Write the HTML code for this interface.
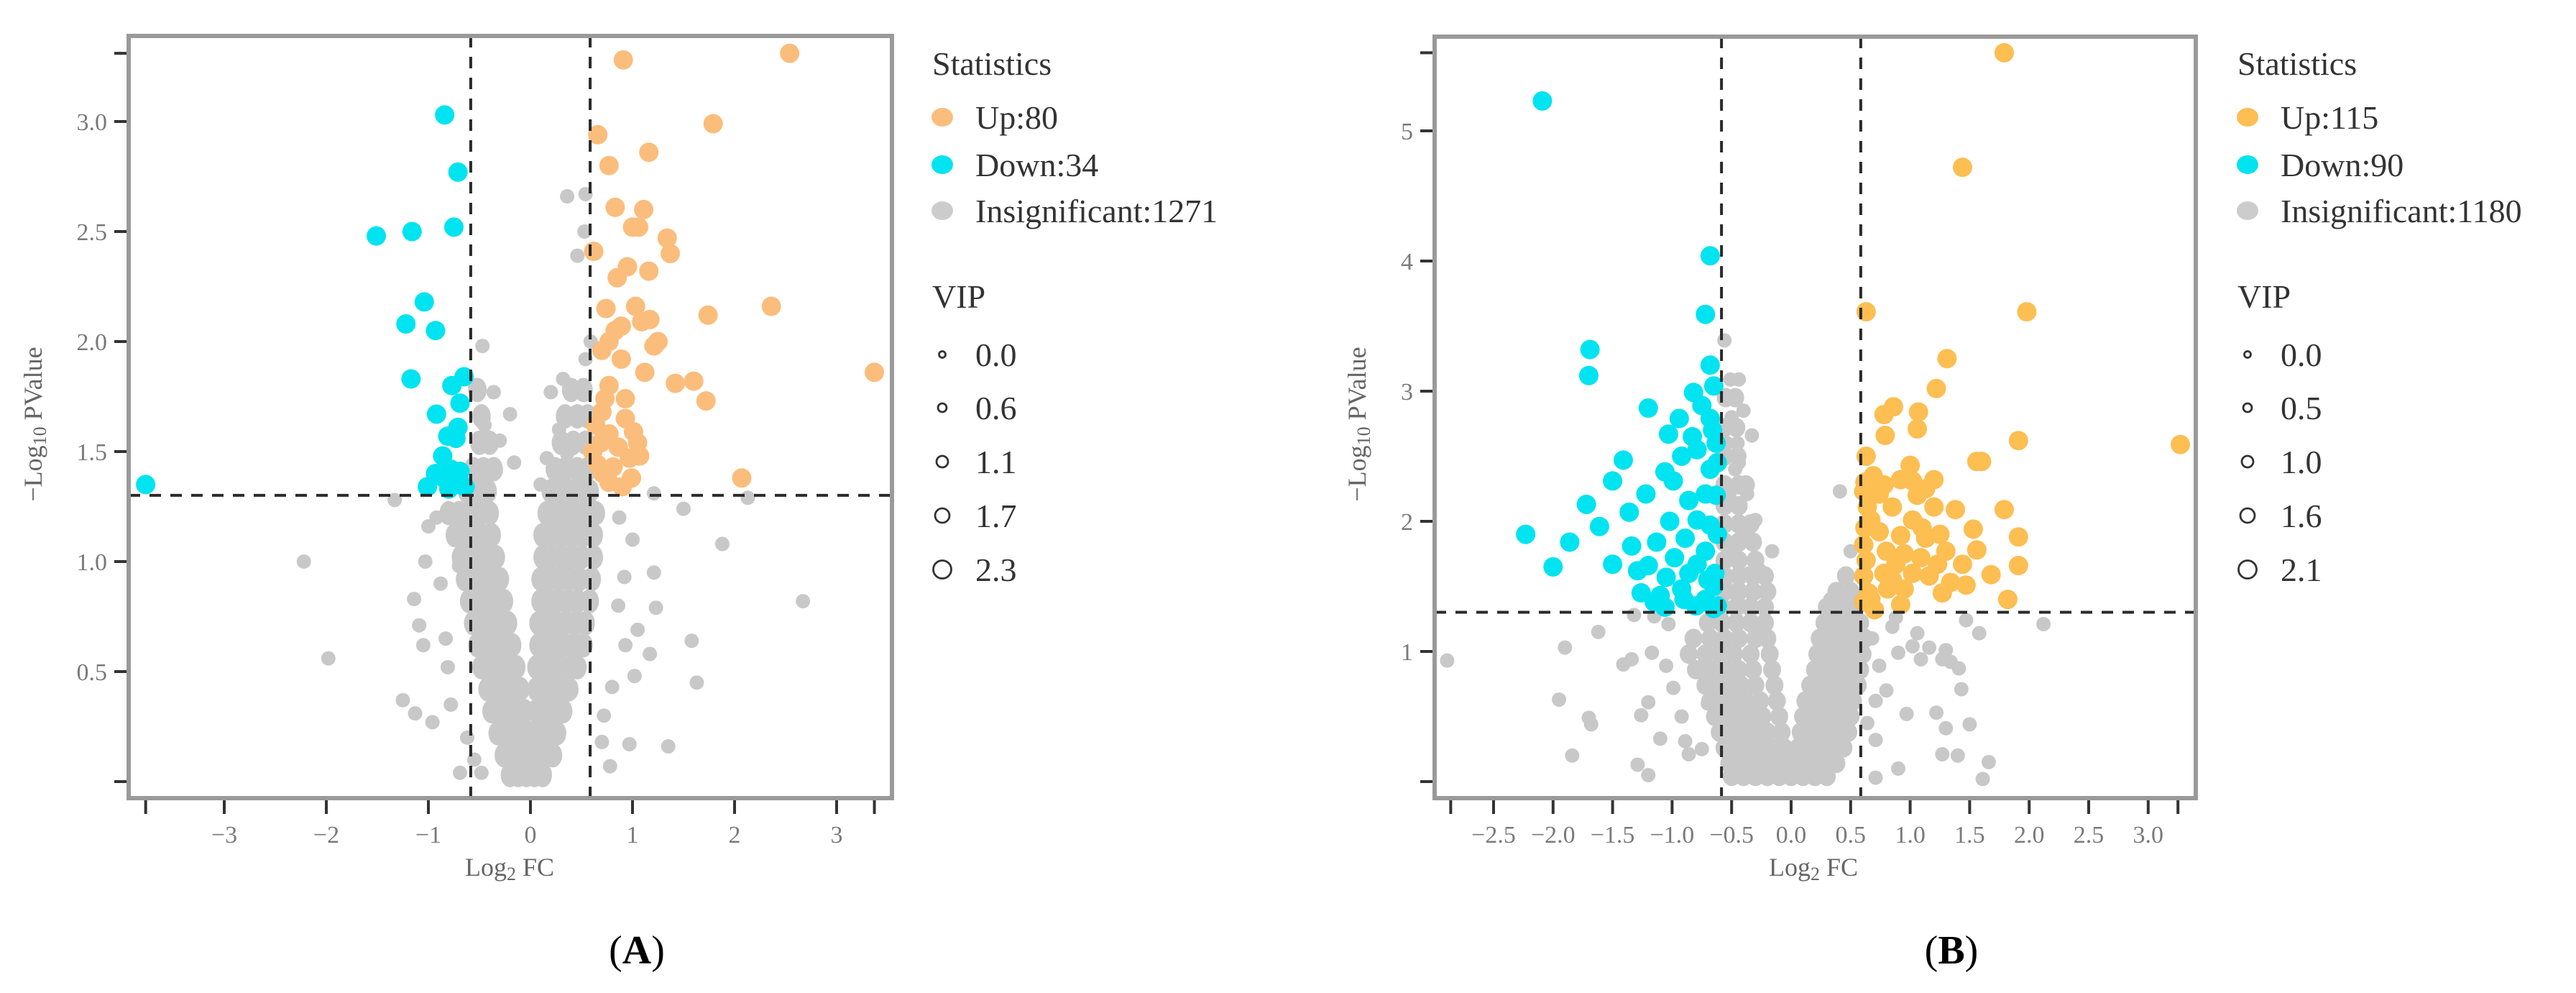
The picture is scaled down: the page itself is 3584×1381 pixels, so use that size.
<!DOCTYPE html>
<html><head><meta charset="utf-8"><style>
html,body{margin:0;padding:0;background:#fff}
svg{display:block}
text{font-family:"Liberation Serif","DejaVu Serif",serif}
</style></head><body>
<svg id="fig" width="3584" height="1381" viewBox="0 0 3584 1381" xmlns="http://www.w3.org/2000/svg"></svg>
<script>
// ===== Panel A data =====
const aXTicks = [-3,-2,-1,0,1,2,3];
const aXTickLabels = ["−3","−2","−1","0","1","2","3"];
const aXExtra = [-3.77, 3.37];
const aYTicks = [0.5,1.0,1.5,2.0,2.5,3.0];
const aYTickLabels = ["0.5","1.0","1.5","2.0","2.5","3.0"];
const aYExtra = [0, 3.31];
const aUp = [[0.91,3.28],[2.54,3.31],[1.79,2.99],[0.66,2.94],[1.16,2.86],[0.77,2.80],[0.83,2.61],[1.11,2.60],[1.0,2.52],[1.06,2.52],[1.34,2.47],[0.62,2.41],[1.37,2.40],[0.95,2.34],[1.16,2.32],[0.85,2.29],[2.36,2.16],[1.74,2.12],[0.74,2.15],[1.03,2.16],[1.17,2.10],[0.89,2.07],[0.83,2.05],[1.25,2.0],[1.21,1.98],[1.09,2.09],[0.70,1.96],[0.89,1.92],[0.77,2.0],[3.37,1.86],[1.12,1.86],[1.42,1.81],[1.60,1.82],[1.72,1.73],[0.77,1.80],[0.73,1.74],[0.93,1.74],[0.70,1.68],[0.93,1.65],[1.01,1.59],[1.05,1.54],[0.77,1.58],[0.69,1.54],[0.61,1.50],[0.97,1.47],[0.81,1.43],[0.71,1.40],[0.99,1.38],[0.77,1.36],[2.07,1.38],[0.64,1.62],[0.86,1.52],[0.66,1.44],[0.90,1.34],[1.07,1.48]];
const aDown = [[-0.84,3.03],[-0.71,2.77],[-0.75,2.52],[-1.51,2.48],[-1.16,2.50],[-1.04,2.18],[-1.22,2.08],[-0.93,2.05],[-1.17,1.83],[-0.65,1.84],[-0.77,1.80],[-0.69,1.72],[-0.92,1.67],[-0.71,1.61],[-0.81,1.57],[-0.73,1.56],[-0.86,1.48],[-0.78,1.42],[-0.93,1.40],[-0.69,1.41],[-1.01,1.34],[-0.73,1.35],[-0.85,1.38],[-3.77,1.35],[-0.64,1.34],[-0.80,1.33]];
const aGrayOut = [[0.36,2.66],[0.54,2.67],[0.53,2.50],[0.46,2.39],[0.59,2.0],[0.54,1.92],[-0.47,1.98],[-0.36,1.77],[-0.2,1.67],[-0.16,1.45],[-0.54,1.80],[0.32,1.83],[0.2,1.77],[0.28,1.6],[0.36,1.49],[0.16,1.47],[-2.22,1.0],[-1.98,0.56],[1.88,1.08],[2.67,0.82],[2.13,1.29],[1.5,1.24],[1.21,1.31],[1.58,0.64],[1.63,0.45],[-1.25,0.37],[-1.13,0.31],[-1.14,0.83],[-1.09,0.71],[-1.05,0.62],[-1.33,1.28],[-1.0,1.16],[-1.03,1.0],[0.97,0.17],[1.35,0.16],[0.78,0.07],[-0.69,0.04],[-0.48,0.04],[1.21,0.95],[1.23,0.79],[1.17,0.58],[1.02,0.48],[1.05,0.69],[0.92,0.93],[1.0,1.1],[0.87,1.2],[0.93,0.62],[0.86,0.8],[-0.92,1.2],[-0.88,0.9],[-0.81,0.52],[-0.78,0.35],[-0.83,0.65],[-0.96,0.27],[-0.70,0.98],[0.72,0.3],[0.8,0.43],[0.7,0.18],[-0.62,0.2],[-0.55,0.1],[-0.3,1.55],[0.1,1.35],[-0.45,1.62],[0.45,1.68]];
const aCloud = [
 [0.03,[-0.2,-0.12,-0.04,0.04,0.12]],
 [0.12,[-0.26,-0.18,-0.1,-0.02,0.06,0.14,0.22]],
 [0.22,[-0.32,-0.24,-0.16,-0.08,0.0,0.08,0.16,0.26]],
 [0.32,[-0.38,-0.3,-0.22,-0.14,-0.06,0.06,0.14,0.22,0.32]],
 [0.42,[-0.42,-0.34,-0.26,-0.18,-0.1,0.06,0.14,0.22,0.3,0.38]],
 [0.52,[-0.48,-0.4,-0.32,-0.24,-0.14,0.06,0.14,0.22,0.3,0.4,0.46]],
 [0.62,[-0.52,-0.44,-0.36,-0.28,-0.18,0.08,0.16,0.24,0.32,0.42,0.52]],
 [0.72,[-0.56,-0.48,-0.4,-0.32,-0.22,0.08,0.16,0.24,0.34,0.44,0.54]],
 [0.82,[-0.6,-0.52,-0.44,-0.36,-0.26,0.1,0.18,0.26,0.36,0.46,0.58]],
 [0.92,[-0.64,-0.56,-0.48,-0.4,-0.3,0.1,0.18,0.28,0.38,0.48,0.6]],
 [1.02,[-0.68,-0.6,-0.52,-0.44,-0.34,0.12,0.2,0.3,0.4,0.5,0.62]],
 [1.12,[-0.74,-0.64,-0.56,-0.48,-0.38,0.12,0.22,0.32,0.42,0.52,0.62]],
 [1.22,[-0.8,-0.7,-0.6,-0.5,-0.4,0.16,0.26,0.36,0.46,0.56,0.64]],
 [1.32,[-0.62,-0.52,-0.42,0.2,0.3,0.4,0.5,0.58]],
 [1.42,[-0.56,-0.46,-0.36,0.24,0.34,0.46,0.56]],
 [1.54,[-0.5,-0.4,0.3,0.42,0.54]],
 [1.66,[-0.48,0.34,0.46,0.56]],
 [1.78,[-0.52,0.4,0.52]]
];
// ===== Panel B data =====
const bXTicks = [-2.5,-2.0,-1.5,-1.0,-0.5,0.0,0.5,1.0,1.5,2.0,2.5,3.0];
const bXTickLabels = ["−2.5","−2.0","−1.5","−1.0","−0.5","0.0","0.5","1.0","1.5","2.0","2.5","3.0"];
const bXExtra = [-2.86, 3.25];
const bYTicks = [1,2,3,4,5];
const bYTickLabels = ["1","2","3","4","5"];
const bYExtra = [0, 5.6];
const bUp = [[1.79,5.60],[1.44,4.72],[0.63,3.61],[1.98,3.61],[1.31,3.25],[1.22,3.02],[0.78,2.82],[0.86,2.88],[1.07,2.84],[1.06,2.71],[0.79,2.66],[1.91,2.62],[3.27,2.59],[0.63,2.50],[1.60,2.46],[1.56,2.46],[1.00,2.43],[0.69,2.35],[0.92,2.32],[1.20,2.32],[1.13,2.25],[0.61,2.23],[0.74,2.21],[1.06,2.20],[0.85,2.11],[1.38,2.09],[1.79,2.09],[1.20,2.11],[1.53,1.94],[1.91,1.88],[1.56,1.78],[1.91,1.66],[1.68,1.59],[1.47,1.51],[1.82,1.40],[1.27,1.45],[1.34,1.53],[1.02,1.60],[0.88,1.67],[0.61,1.58],[0.81,1.48],[0.92,1.36],[0.67,1.40],[0.61,1.82],[0.74,1.92],[1.02,2.01],[1.13,1.87],[1.30,1.77],[1.23,1.67],[0.92,1.89],[0.67,2.01],[1.09,1.72],[0.80,1.77],[1.16,1.58],[0.61,1.38],[0.95,1.48],[1.44,1.67],[0.64,2.11],[1.02,2.31],[0.78,2.28],[0.62,1.95],[0.63,1.70],[0.65,1.45],[0.62,2.30],[0.70,1.32],[0.85,1.55],[0.95,1.75],[1.10,1.95],[1.25,1.90],[0.78,1.60]];
const bDown = [[-2.09,5.23],[-0.68,4.04],[-0.72,3.59],[-1.69,3.32],[-1.70,3.12],[-0.68,3.20],[-0.82,2.99],[-0.65,3.04],[-0.75,2.89],[-1.20,2.87],[-0.94,2.79],[-0.68,2.79],[-0.83,2.65],[-1.03,2.67],[-0.63,2.60],[-1.41,2.47],[-0.79,2.55],[-0.92,2.50],[-1.06,2.38],[-1.50,2.31],[-0.99,2.31],[-0.68,2.40],[-1.22,2.21],[-1.72,2.13],[-0.86,2.16],[-0.72,2.21],[-1.36,2.07],[-1.61,1.96],[-1.02,2.00],[-0.79,2.01],[-2.23,1.90],[-1.86,1.84],[-1.13,1.84],[-1.34,1.81],[-0.89,1.87],[-0.68,1.97],[-2.00,1.65],[-1.50,1.67],[-0.98,1.72],[-1.20,1.66],[-0.72,1.77],[-1.29,1.62],[-1.05,1.57],[-0.86,1.60],[-1.26,1.45],[-0.92,1.48],[-1.10,1.43],[-0.72,1.40],[-0.65,1.50],[-0.79,1.67],[-0.65,1.33],[-1.06,1.34],[-0.63,2.20],[-0.62,1.90],[-0.64,1.60],[-0.66,2.70],[-0.62,2.45],[-0.70,1.55],[-0.62,1.35],[-0.90,1.40],[-0.80,1.35],[-1.15,1.38]];
const bGrayOut = [[-2.89,0.93],[-1.90,1.03],[-1.62,1.15],[-1.95,0.63],[-1.70,0.49],[-1.68,0.44],[-1.84,0.20],[-1.29,0.13],[-1.20,0.05],[-1.41,0.90],[-1.34,0.94],[-1.17,0.99],[-1.20,0.61],[-1.26,0.51],[-1.10,0.33],[-0.99,0.72],[-0.86,0.21],[-0.89,0.31],[-1.05,0.89],[-1.32,1.28],[-1.15,1.27],[-1.03,1.21],[-0.56,3.39],[-0.51,3.09],[-0.44,3.09],[-0.40,2.85],[-0.33,2.66],[-0.44,2.45],[-0.37,2.21],[-0.30,2.01],[-0.16,1.77],[-0.26,1.62],[-0.47,2.40],[-0.54,2.60],[0.41,2.23],[0.50,1.77],[0.33,1.40],[0.41,1.43],[2.12,1.21],[1.47,1.24],[1.58,1.14],[1.16,1.03],[1.30,1.01],[1.34,0.92],[1.41,0.87],[1.27,0.94],[1.09,0.94],[0.90,0.99],[0.74,0.89],[1.06,1.14],[0.88,1.26],[0.85,1.19],[1.02,1.04],[1.43,0.71],[1.50,0.44],[1.30,0.41],[1.22,0.53],[0.97,0.52],[0.71,0.62],[0.64,0.45],[0.71,0.32],[0.90,0.10],[0.71,0.03],[1.27,0.21],[1.40,0.20],[1.66,0.15],[1.61,0.02],[-0.5,2.8],[-0.45,2.6],[-0.52,2.2],[-0.4,1.9],[-0.5,1.8],[-0.35,1.6],[-0.55,1.5],[-0.3,1.45],[-0.45,1.4],[-0.92,0.5],[-0.75,0.25],[-0.7,0.6],[0.8,0.7],[0.68,1.1]];
const bCloud = [
 [0.04,[-0.5,-0.4,-0.3,-0.2,-0.1,0.0,0.1,0.2,0.3]],
 [0.14,[-0.52,-0.42,-0.32,-0.22,-0.12,-0.02,0.08,0.18,0.28,0.38]],
 [0.26,[-0.56,-0.46,-0.36,-0.26,-0.16,-0.06,0.06,0.16,0.26,0.36,0.44]],
 [0.38,[-0.6,-0.5,-0.4,-0.3,-0.2,-0.08,0.08,0.18,0.28,0.38,0.48]],
 [0.5,[-0.64,-0.54,-0.44,-0.34,-0.24,-0.1,0.1,0.2,0.3,0.4,0.5]],
 [0.62,[-0.68,-0.58,-0.48,-0.38,-0.26,-0.12,0.12,0.22,0.32,0.42,0.52]],
 [0.74,[-0.72,-0.62,-0.52,-0.42,-0.3,-0.14,0.16,0.26,0.36,0.46,0.56]],
 [0.86,[-0.8,-0.68,-0.56,-0.44,-0.32,-0.16,0.2,0.3,0.4,0.5,0.58]],
 [0.98,[-0.86,-0.72,-0.6,-0.48,-0.34,-0.18,0.22,0.32,0.42,0.52,0.6]],
 [1.1,[-0.82,-0.68,-0.56,-0.44,-0.3,-0.2,0.24,0.34,0.44,0.54,0.62]],
 [1.22,[-0.7,-0.58,-0.46,-0.34,-0.22,0.28,0.38,0.48,0.58]],
 [1.34,[-0.58,-0.46,-0.34,-0.22,0.3,0.42,0.54]],
 [1.46,[-0.56,-0.44,-0.32,-0.2,0.38,0.5]],
 [1.58,[-0.56,-0.44,-0.32,-0.22,0.46]],
 [1.7,[-0.56,-0.44,-0.3]],
 [1.84,[-0.56,-0.44,-0.32]],
 [1.98,[-0.56,-0.44,-0.34]],
 [2.12,[-0.56,-0.44]],
 [2.28,[-0.56,-0.44,-0.38]],
 [2.5,[-0.56,-0.45]],
 [2.72,[-0.56,-0.46]],
 [2.95,[-0.55,-0.47]]
];
const legendA = ["Up:80","Down:34","Insignificant:1271"];
const vipA = ["0.0","0.6","1.1","1.7","2.3"];
const legendB = ["Up:115","Down:90","Insignificant:1180"];
const vipB = ["0.0","0.5","1.0","1.6","2.1"];

const NS = "http://www.w3.org/2000/svg";
const svg = document.getElementById('fig');
function mk(tag, attrs, parent){
  const e = document.createElementNS(NS, tag);
  for (const k in attrs) e.setAttribute(k, attrs[k]);
  (parent||svg).appendChild(e);
  return e;
}

function panel(P){
  const g = mk('g', {});
  
  
  const sx = v => P.x0 + v*P.ux;
  const sy = v => P.y0 - v*P.uy;
  const pts = mk('g', {}, g);
  
  
  P.cloud.forEach(row => {
    row[1].forEach(x => {
      const c = mk('ellipse', {cx:sx(x), cy:sy(row[0]), rx:P.crx, ry:P.cry, fill:'#c8c8c8'}, pts);
      
      
    });
  });
  P.gray.forEach(p => {
    const c = mk('circle', {cx:sx(p[0]), cy:sy(p[1]), r:10, fill:'#c8c8c8'}, pts);
    
    
  });
  P.down.forEach(p => {
    const c = mk('circle', {cx:sx(p[0]), cy:sy(p[1]), r:13.5, fill:'#00e3f0'}, pts);
    
    
  });
  P.up.forEach(p => {
    const c = mk('circle', {cx:sx(p[0]), cy:sy(p[1]), r:13.5, fill:P.upColor}, pts);
    
    
  });
  const th = [[sx(-0.585),P.top,sx(-0.585),P.bottom],[sx(0.585),P.top,sx(0.585),P.bottom],[P.left,sy(1.301),P.right,sy(1.301)]];
  th.forEach((l,i) => {
    const e = mk('line', {x1:l[0],y1:l[1],x2:l[2],y2:l[3],stroke:'#2a2a2a','stroke-width':4,'stroke-dasharray':'16 13'}, g);
    
    
  });
  const box = mk('rect', {x:P.left, y:P.top, width:P.right-P.left, height:P.bottom-P.top, fill:'none', stroke:'#9a9a9a','stroke-width':6}, g);
  
  
  const xt = P.xTicks.concat(P.xExtra);
  xt.forEach(v => {
    const t = mk('line', {x1:sx(v), y1:P.bottom+3, x2:sx(v), y2:P.bottom+22, stroke:'#333','stroke-width':4}, g);
    
    
  });
  P.xTicks.forEach((v,i) => {
    const t = mk('text', {x:sx(v), y:P.bottom+62, 'text-anchor':'middle', 'font-size':34, fill:'#7a7a7a'}, g);
    t.textContent = P.xLabels[i];
    
    
  });
  const yt = P.yTicks.concat(P.yExtra);
  yt.forEach(v => {
    const t = mk('line', {x1:P.left-20, y1:sy(v), x2:P.left-3, y2:sy(v), stroke:'#333','stroke-width':4}, g);
    
    
  });
  P.yTicks.forEach((v,i) => {
    const t = mk('text', {x:P.left-30, y:sy(v)+12, 'text-anchor':'end', 'font-size':34, fill:'#7a7a7a'}, g);
    t.textContent = P.yLabels[i];
    
    
  });
  const xtitle = mk('text', {x:P.xTitleX, y:1218, 'text-anchor':'middle', 'font-size':36, fill:'#666'}, g);
  
  
  xtitle.innerHTML = 'Log<tspan font-size="26" dy="6">2</tspan><tspan dy="-6"> FC</tspan>';
  const ytitle = mk('text', {x:0, y:0, 'text-anchor':'middle', 'font-size':36, fill:'#666', transform:'translate('+(P.yTitleX)+',590) rotate(-90)'}, g);
  
  
  ytitle.innerHTML = '−Log<tspan font-size="26" dy="6">10</tspan><tspan dy="-6"> PValue</tspan>';
  const lg = mk('g', {}, g);
  
  
  const st = mk('text', {x:P.legX-14, y:104, 'font-size':46, fill:'#333'}, lg);
  st.textContent = 'Statistics';
  
  
  const cols = [P.upColor, '#00e3f0', '#cccccc'];
  const rowsY = [163, 229, 293];
  P.legend.forEach((s,i) => {
    const d = mk('ellipse', {cx:P.legX, cy:rowsY[i], rx:15, ry:13, fill:cols[i]}, lg);
    
    
    const t = mk('text', {x:P.legX+46, y:rowsY[i]+16, 'font-size':46, fill:'#333'}, lg);
    t.textContent = s;
    
    
  });
  const vt = mk('text', {x:P.legX-14, y:428, 'font-size':46, fill:'#333'}, lg);
  vt.textContent = 'VIP';
  
  
  const vy = [493, 567, 642, 717, 792];
  const vr = [4.5, 6, 8, 10, 12.5];
  P.vip.forEach((s,i) => {
    const c = mk('circle', {cx:P.legX, cy:vy[i], r:vr[i], fill:'none', stroke:'#333', 'stroke-width':2.8}, lg);
    
    
    const t = mk('text', {x:P.legX+46, y:vy[i]+16, 'font-size':46, fill:'#333'}, lg);
    t.textContent = s;
    
    
  });
  const pl = mk('text', {x:P.labelX, y:1340, 'text-anchor':'middle', 'font-size':56, 'font-weight':'bold', fill:'#000'}, g);
  pl.innerHTML = '<tspan font-weight="normal">(</tspan>'+P.label+'<tspan font-weight="normal">)</tspan>';
  
  
}

panel({name:'panel-a', x0:738, ux:142, y0:1087, uy:306, left:179, right:1241, top:50, bottom:1110,
  xTicks:aXTicks, xLabels:aXTickLabels, xExtra:aXExtra, yTicks:aYTicks, yLabels:aYTickLabels, yExtra:aYExtra,
  up:aUp, down:aDown, gray:aGrayOut, cloud:aCloud, upColor:'#fbbd7c', crx:13, cry:17,
  xTitleX:709, yTitleX:58, legX:1311, legend:legendA, vip:vipA, label:'A', labelX:886});
panel({name:'panel-b', x0:2492, ux:165.6, y0:1087, uy:181, left:1996, right:3055, top:51, bottom:1110,
  xTicks:bXTicks, xLabels:bXTickLabels, xExtra:bXExtra, yTicks:bYTicks, yLabels:bYTickLabels, yExtra:bYExtra,
  up:bUp, down:bDown, gray:bGrayOut, cloud:bCloud, upColor:'#fdbe52', crx:12.5, cry:13.5,
  xTitleX:2523, yTitleX:1900, legX:3127, legend:legendB, vip:vipB, label:'B', labelX:2715});
</script>
</body></html>
